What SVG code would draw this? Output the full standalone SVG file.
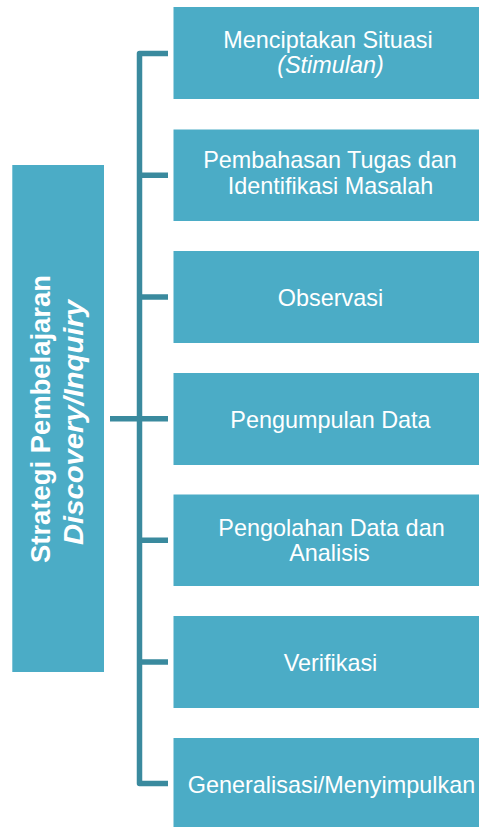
<svg xmlns="http://www.w3.org/2000/svg" width="479" height="827" viewBox="0 0 479 827">
<style>
.box{fill:#4BACC6;}
.lbl{font-family:"Liberation Sans",Arial,sans-serif;font-size:23.4px;fill:#FFFFFF;text-anchor:middle;}
.it{font-style:italic;}
.rot{font-size:27px;font-weight:bold;}
.conn{fill:none;stroke:#3A8A9E;stroke-width:5.5;stroke-linejoin:round;}
</style>
<rect width="479" height="827" fill="#FFFFFF"/>
<g id="connectors">
<path class="conn" d="M168,53.5 H139.5 V783.5 H168"/>
<path class="conn" d="M139.5,175.3 H168 M139.5,297 H168 M110,418.7 H168 M139.5,540.3 H168 M139.5,662 H168"/>
</g>
<g id="root">
<rect class="box" x="12.3" y="165" width="91.7" height="507"/>
<text class="lbl rot" transform="translate(50,419) rotate(-90)" x="0" y="0" textLength="288" lengthAdjust="spacingAndGlyphs">Strategi Pembelajaran</text>
<text class="lbl rot it" transform="translate(83,422.5) rotate(-90)" x="0" y="0" textLength="245" lengthAdjust="spacingAndGlyphs">Discovery/Inquiry</text>
</g>
<g id="n1">
<rect class="box" x="173.5" y="7" width="320" height="92"/>
<text class="lbl" x="328" y="48.2">Menciptakan Situasi</text>
<text class="lbl it" x="330.5" y="72.8">(Stimulan)</text>
</g>
<g id="n2">
<rect class="box" x="173.5" y="129.5" width="320" height="91.5"/>
<text class="lbl" x="330" y="168.2">Pembahasan Tugas dan</text>
<text class="lbl" x="330.5" y="194.2">Identifikasi Masalah</text>
</g>
<g id="n3">
<rect class="box" x="173.5" y="251" width="320" height="92"/>
<text class="lbl" x="330.5" y="305.5">Observasi</text>
</g>
<g id="n4">
<rect class="box" x="173.5" y="373" width="320" height="92"/>
<text class="lbl" x="330.5" y="427.5">Pengumpulan Data</text>
</g>
<g id="n5">
<rect class="box" x="173.5" y="494.5" width="320" height="91.5"/>
<text class="lbl" x="331.5" y="535.6">Pengolahan Data dan</text>
<text class="lbl" x="329.5" y="560.6">Analisis</text>
</g>
<g id="n6">
<rect class="box" x="173.5" y="616" width="320" height="92"/>
<text class="lbl" x="330.5" y="670.5">Verifikasi</text>
</g>
<g id="n7">
<rect class="box" x="173.5" y="738" width="320" height="92"/>
<text class="lbl" x="331.5" y="792.5">Generalisasi/Menyimpulkan</text>
</g>
</svg>
